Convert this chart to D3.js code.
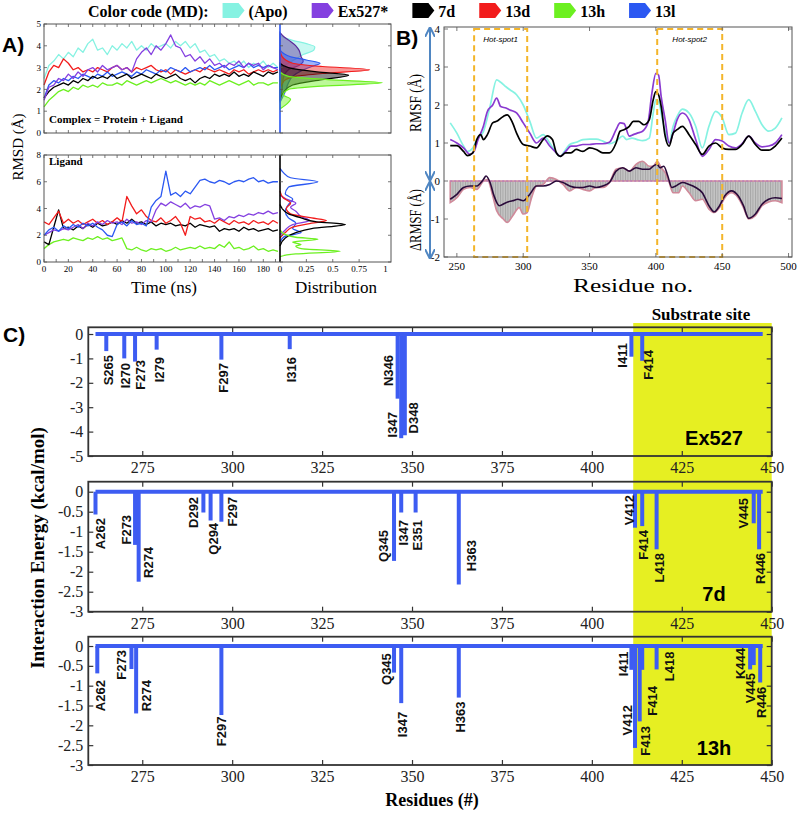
<!DOCTYPE html>
<html>
<head>
<meta charset="utf-8">
<script src="https://cdn.jsdelivr.net/npm/d3@7"></script>
<style>
  body { margin: 0; background: #fff; }
  svg { display: block; }
  .serif { font-family: "Liberation Serif", "Times New Roman", serif; }
  .sans { font-family: "Liberation Sans", Arial, sans-serif; }
</style>
</head>
<body>
<div id="chart"></div>
<script>
// legend of the md runs
let legendNames = ['(Apo)', 'Ex527*', '7d', '13d', '13h', '13l'];

// panel A: sampled time (ns) and rmsd traces (angstrom)
let timeNs = [0,4,8,12,16,20,24,28,32,36,
    40,44,48,52,56,60,64,68,72,76,
    80,84,88,92,96,100,104,108,112,116,
    120,124,128,132,136,140,144,148,152,156,
    160,164,168,172,176,180,184,188,192];

let complexApo = [2.5,3.1,3.3,3.6,3.4,3.7,3.5,3.9,3.7,4.1,
    4.3,3.8,3.9,3.6,4.0,3.8,4.1,3.9,4.2,3.8,
    4.0,3.8,4.1,3.9,4.0,4.1,3.9,4.2,4.0,4.2,
    3.9,4.1,3.7,3.8,3.5,3.6,3.3,3.4,3.2,3.3,
    3.1,3.3,3.0,3.2,3.1,3.3,3.0,3.2,3.0];
let complexEx527 = [1.5,2.1,2.2,2.5,2.4,2.7,2.5,2.8,2.6,2.9,
    3.0,2.8,3.1,2.9,3.0,3.1,2.9,3.0,2.8,3.4,
    3.7,3.9,3.6,4.0,3.8,4.1,4.5,4.0,3.9,3.5,
    3.6,3.3,3.5,3.2,3.4,3.1,3.2,3.0,3.2,3.1,
    3.3,3.0,3.2,3.1,3.2,2.9,3.1,3.0,2.9];
let complex7d = [1.6,1.9,2.1,2.2,2.3,2.2,2.4,2.3,2.5,2.4,
    2.6,2.5,2.6,2.5,2.7,2.5,2.6,2.7,2.5,2.6,
    2.7,2.6,2.5,2.7,2.6,2.5,2.6,2.7,2.5,2.4,
    2.5,2.3,2.5,2.6,2.5,2.7,2.6,2.7,2.6,2.8,
    2.6,2.7,2.6,2.8,2.7,2.6,2.8,2.7,2.8];
let complex13d = [2.2,2.8,3.1,3.0,3.4,3.2,2.9,3.0,2.8,2.9,
    2.8,3.0,2.9,2.8,3.0,3.1,2.9,3.0,2.8,3.0,
    2.9,3.0,3.1,2.9,2.8,2.9,2.7,2.9,2.8,2.7,
    2.8,2.9,2.8,3.0,2.9,2.8,2.9,2.8,2.7,2.9,
    2.8,2.9,2.7,2.8,2.9,2.8,2.9,2.8,2.9];
let complex13h = [1.2,1.5,1.7,1.9,2.0,1.9,2.1,2.0,2.2,2.1,
    2.2,2.1,2.3,2.2,2.2,2.3,2.2,2.4,2.3,2.2,
    2.3,2.4,2.3,2.4,2.5,2.4,2.3,2.4,2.3,2.2,
    2.3,2.2,2.3,2.2,2.4,2.3,2.2,2.3,2.4,2.3,
    2.2,2.3,2.4,2.2,2.3,2.3,2.2,2.3,2.3];
let complex13l = [1.6,2.2,2.4,2.3,2.5,2.4,2.6,2.5,2.7,2.6,
    2.5,2.7,2.6,2.8,2.6,2.7,2.8,2.7,2.6,2.8,
    2.7,2.9,2.8,2.7,2.9,2.8,3.0,2.9,2.8,3.0,
    2.8,2.9,3.0,2.9,3.1,2.9,3.0,3.1,2.9,3.0,
    3.1,3.0,3.2,3.0,3.1,3.0,3.1,3.0,3.0];

let ligandEx527 = [2.0,2.2,2.4,2.3,2.5,2.4,2.6,2.8,2.5,2.9,
    2.7,3.0,2.8,3.1,2.9,3.0,2.8,3.2,2.9,3.0,
    2.8,3.1,3.0,3.9,4.4,4.2,4.5,4.3,4.1,4.4,
    4.0,4.2,4.1,4.3,4.2,3.2,3.3,3.1,3.4,3.3,
    3.5,3.4,3.6,3.5,3.7,3.6,3.8,3.6,3.7];
let ligand7d = [1.5,1.3,2.6,3.9,2.5,2.6,2.4,2.7,2.5,2.8,
    2.6,2.9,2.7,2.8,3.0,2.8,3.1,2.9,3.2,2.9,
    3.0,2.8,3.0,2.7,2.9,2.8,2.9,2.7,2.8,2.7,
    2.9,2.6,2.8,2.7,2.6,2.7,2.3,2.5,2.4,2.5,
    2.3,2.6,2.4,2.5,2.3,2.4,2.5,2.3,2.4];
let ligand13d = [3.0,2.8,3.3,3.8,2.9,3.2,2.9,3.1,2.8,3.0,
    3.2,2.9,3.1,2.8,3.0,3.3,3.0,4.9,4.2,3.6,
    3.9,3.4,3.1,3.0,3.3,2.9,3.1,3.4,2.9,2.0,
    3.4,3.2,3.3,3.0,3.1,2.9,3.2,3.0,2.8,3.1,
    2.9,3.0,2.8,3.1,2.9,3.0,2.8,3.1,2.9];
let ligand13h = [1.0,1.3,1.5,1.6,1.7,1.6,1.8,1.7,1.6,1.8,
    1.7,1.9,1.7,1.8,1.6,1.7,1.8,1.0,0.9,1.1,
    0.9,0.8,1.0,0.9,1.0,0.8,0.9,1.1,0.9,1.0,
    1.1,1.0,1.2,1.0,1.1,1.0,1.3,1.1,1.5,1.0,
    1.1,0.9,1.0,1.2,0.9,1.0,0.8,0.9,0.8];
let ligand13l = [2.0,2.4,2.6,2.3,2.7,2.5,2.8,2.6,2.9,2.7,
    2.9,2.6,2.4,2.0,1.9,2.8,3.0,2.7,3.1,2.8,
    2.9,2.7,4.1,4.6,4.9,6.8,5.0,5.2,4.9,5.3,
    5.1,5.6,6.1,6.2,6.0,5.9,6.1,6.0,5.8,6.0,
    6.1,6.0,6.2,6.3,6.0,6.1,5.9,6.0,6.0];

// distributions: [rmsd, density]
let distApo = [[2.6,0],[3.0,0.02],[3.2,0.08],[3.4,0.15],[3.6,0.22],[3.8,0.32],[3.95,0.33],[4.1,0.25],[4.25,0.12],[4.4,0.03],[4.5,0]];
let distEx527 = [[1.5,0],[2.0,0.02],[2.5,0.03],[2.9,0.08],[3.1,0.18],[3.3,0.22],[3.5,0.2],[3.8,0.18],[4.0,0.15],[4.2,0.1],[4.4,0.04],[4.6,0]];
let dist7d = [[1.5,0],[1.9,0.04],[2.2,0.12],[2.45,0.4],[2.65,0.65],[2.8,0.35],[3.0,0.08],[3.2,0]];
let dist13d = [[2.0,0],[2.4,0.04],[2.6,0.15],[2.75,0.45],[2.9,0.85],[3.05,0.4],[3.2,0.12],[3.5,0.02],[3.8,0]];
let dist13h = [[1.1,0],[1.4,0.08],[1.55,0.1],[1.75,0.03],[2.0,0.08],[2.15,0.4],[2.3,0.97],[2.45,0.45],[2.6,0.08],[2.8,0]];
let dist13l = [[1.4,0],[1.9,0.05],[2.3,0.08],[2.6,0.12],[2.85,0.2],[3.05,0.3],[3.2,0.38],[3.35,0.25],[3.5,0.1],[3.8,0]];

let ligDistEx527 = [[2.0,0],[2.4,0.05],[2.8,0.12],[3.1,0.28],[3.4,0.2],[3.8,0.15],[4.1,0.1],[4.4,0.15],[4.7,0.06],[5.0,0]];
let ligDist7d = [[1.2,0],[1.8,0.05],[2.2,0.15],[2.5,0.3],[2.8,0.62],[3.0,0.35],[3.3,0.2],[3.6,0.08],[4.0,0.02],[4.3,0]];
let ligDist13d = [[1.8,0],[2.2,0.05],[2.6,0.12],[2.9,0.3],[3.1,0.44],[3.3,0.3],[3.6,0.1],[4.0,0.06],[4.4,0.1],[4.8,0.03],[5.3,0]];
let ligDist13h = [[0.4,0],[0.6,0.15],[0.8,0.57],[1.0,0.2],[1.2,0.15],[1.3,0.2],[1.5,0.12],[1.7,0.36],[1.85,0.15],[2.1,0.04],[2.4,0]];
let ligDist13l = [[1.5,0],[1.9,0.04],[2.2,0.2],[2.5,0.12],[2.9,0.15],[3.3,0.08],[3.8,0.05],[4.3,0.08],[4.7,0.12],[5.1,0.05],[5.6,0.08],[6.0,0.36],[6.3,0.1],[6.7,0.03],[7.0,0]];

// panel B: rmsf per residue [residue, angstrom]
let rmsfApo = [[245,1.53],[250,1.26],[255,0.92],[258,0.78],[262,0.87],[265,1.09],[270,1.3],[275,1.96],[280,2.66],[283,2.6],[287,2.48],[290,2.4],[295,2.27],[300,2.0],[305,1.57],[310,1.13],[315,1.22],[320,1.0],[325,0.74],[328,0.65],[332,0.83],[335,0.96],[340,1.02],[345,1.09],[350,1.1],[355,1.1],[360,1.05],[365,0.98],[370,1.05],[375,1.18],[378,1.09],[382,1.13],[386,1.09],[390,1.06],[395,1.13],[398,1.79],[400,2.14],[402,2.09],[405,1.61],[408,1.18],[410,1.0],[413,1.44],[416,1.7],[420,1.89],[425,1.79],[430,1.44],[435,0.87],[440,1.44],[445,1.83],[450,1.66],[455,1.22],[460,1.26],[465,1.79],[470,2.14],[475,1.83],[480,1.48],[485,1.31],[490,1.39],[495,1.66]];
let rmsfEx527 = [[245,1.09],[250,1.0],[255,0.87],[260,0.7],[263,0.78],[266,1.09],[270,1.44],[273,1.83],[277,2.0],[280,2.18],[283,1.96],[287,1.92],[290,1.87],[295,1.79],[300,1.53],[305,1.26],[310,1.0],[315,1.13],[320,0.92],[325,0.74],[328,0.65],[332,0.78],[336,0.92],[340,0.92],[345,0.96],[350,0.96],[355,0.98],[360,0.98],[365,1.02],[370,1.35],[373,1.53],[376,1.51],[380,1.18],[383,1.22],[386,1.26],[390,1.31],[394,1.53],[397,2.31],[400,2.83],[402,2.79],[404,2.22],[407,1.61],[410,1.0],[413,1.26],[416,1.61],[420,1.79],[425,1.61],[430,1.09],[435,0.65],[440,0.83],[445,1.09],[450,1.05],[455,0.92],[460,0.87],[465,0.98],[470,1.18],[475,1.0],[480,0.9],[485,0.92],[490,1.0],[495,1.22]];
let rmsf7d = [[245,0.93],[250,0.93],[255,0.78],[258,0.67],[262,0.74],[265,1.09],[268,1.22],[270,1.09],[273,1.22],[277,1.53],[280,1.57],[285,1.7],[288,1.74],[292,1.53],[295,1.26],[300,0.96],[305,0.92],[310,0.87],[315,1.09],[318,1.19],[322,1.09],[325,0.74],[328,0.65],[332,0.74],[336,0.74],[340,0.83],[345,0.78],[350,0.87],[355,0.83],[360,0.74],[365,0.74],[370,1.0],[373,1.31],[376,1.35],[380,1.44],[383,1.57],[387,1.57],[391,1.48],[395,1.61],[398,2.14],[400,2.35],[402,2.27],[404,1.96],[407,1.18],[410,0.92],[413,1.26],[416,1.35],[420,1.44],[425,1.22],[430,0.96],[435,0.7],[440,0.92],[445,1.0],[450,0.87],[455,0.83],[460,0.83],[465,0.96],[470,1.18],[475,0.96],[480,0.81],[485,0.81],[490,0.92],[495,1.13]];
let dRmsfEx527 = [[245,-0.57],[250,-0.44],[255,-0.22],[260,-0.17],[265,-0.22],[270,0.0],[273,0.04],[277,-0.39],[280,-0.78],[285,-1.0],[288,-1.09],[292,-0.92],[297,-0.7],[300,-0.87],[303,-0.83],[306,-0.48],[310,-0.13],[315,-0.09],[320,0.09],[325,0.04],[330,-0.09],[335,-0.26],[340,-0.17],[345,-0.22],[350,-0.26],[355,-0.17],[360,-0.17],[365,-0.04],[370,0.31],[375,0.35],[380,0.26],[385,0.44],[390,0.52],[395,0.39],[398,0.39],[401,0.52],[404,0.35],[407,0.22],[410,-0.04],[413,-0.31],[417,-0.31],[420,-0.13],[425,-0.31],[430,-0.52],[435,-0.48],[440,-0.74],[444,-0.83],[448,-0.7],[452,-0.44],[457,-0.31],[462,-0.44],[466,-0.7],[470,-1.0],[475,-0.91],[480,-0.65],[485,-0.55],[490,-0.52],[495,-0.57]];
let dRmsf7d = [[245,-0.48],[250,-0.35],[255,-0.17],[260,-0.13],[265,-0.13],[270,0.04],[272,0.13],[275,-0.04],[278,-0.39],[282,-0.65],[287,-0.57],[292,-0.52],[296,-0.48],[300,-0.52],[305,-0.35],[310,-0.13],[315,-0.13],[320,-0.09],[325,0.0],[330,-0.04],[335,-0.13],[340,-0.17],[345,-0.17],[350,-0.13],[355,-0.17],[360,-0.13],[365,-0.04],[370,0.26],[375,0.35],[380,0.26],[385,0.35],[390,0.31],[395,0.31],[398,0.39],[401,0.44],[403,0.35],[406,0.39],[409,0.13],[412,-0.17],[415,-0.13],[420,-0.04],[425,-0.09],[430,-0.17],[435,-0.31],[440,-0.65],[444,-0.81],[448,-0.65],[452,-0.39],[457,-0.26],[462,-0.39],[466,-0.65],[470,-0.98],[475,-0.87],[480,-0.61],[485,-0.48],[490,-0.44],[495,-0.46]];
let hotSpots = [['Hot-spot1', 263, 303], ['Hot-spot2', 401, 450]];

// panel C: interaction energy per residue [label, residue, kcal/mol]
let ex527Bars = [['S265',265,-0.7],['I270',270,-1.0],['F273',273,-1.13],['I279',279,-0.64],['F297',297,-1.05],['I316',316,-0.62],
    ['N346',346,-2.65],['I347',347,-4.27],['D348',348,-4.15],['I411',411,-0.93],['F414',414,-1.1]];
let d7Bars = [['A262',262,-0.57],['F273',273,-1.33],['R274',274,-2.25],['D292',292,-0.52],['Q294',294,-0.72],['F297',297,-0.75],
    ['Q345',345,-1.73],['I347',347,-0.52],['E351',351,-0.52],['H363',363,-2.32],['V412',412,-0.9],['F414',414,-0.86],
    ['L418',418,-1.44],['V445',445,-0.79],['R446',446.5,-1.44]];
let h13Bars = [['A262',262.5,-0.69],['F273',272,-0.58],['R274',273.3,-1.7],['F297',297,-1.74],['Q345',345,-0.67],['I347',347,-1.44],
    ['H363',363,-1.3],['I411',411,-0.6],['F414',414,-0.6],['V412',412,-2.57],['F413',413.3,-1.9],['L418',418,-0.59],
    ['K444',444,-0.59],['V445',445,-0.48],['R446',446.8,-0.92]];
let energyTicksEx527 = [0, -1, -2, -3, -4, -5];
let energyTicks = [0, -0.5, -1, -1.5, -2, -2.5, -3];
let residueTicks = [275, 300, 325, 350, 375, 400, 425, 450];



let colors = ['#86f2e2', '#8440e0', '#000000', '#f21c1c', '#6cf020', '#2b58f2'];

let svg = d3.select('#chart')
    .append('svg')
        .attr('width', 798)
        .attr('height', 815);

// legend at the top
let legend = svg.append('g')
        .attr('class', 'serif')
        .style('font-weight', 'bold')
        .style('font-size', '16px');
let lx = 88;
let lt = legend.append('text').attr('x', lx).attr('y', 17).text('Color code (MD):');
lx += lt.node().getComputedTextLength() + 14;
legendNames.forEach((name, i) => {
    legend.append('path')
        .attr('d', arrowPath(lx, 3, 22, 15))
        .attr('fill', colors[i]);
    let t = legend.append('text').attr('x', lx + 26).attr('y', 17).text(name);
    lx += 26 + t.node().getComputedTextLength() + 24;
});

// panel labels
svg.append('g').attr('class', 'sans').style('font-weight', 'bold').style('font-size', '21px')
    .selectAll('text')
    .data([['A)', 2, 52], ['B)', 396, 45], ['C)', 3, 342]])
    .enter()
    .append('text')
        .attr('x', (d) => d[1])
        .attr('y', (d) => d[2])
        .text((d) => d[0]);



// ---------------- panel A ----------------
let aX = d3.scaleLinear().domain([0, 193.7]).range([44, 280]);
let aD = d3.scaleLinear().domain([0, 1]).range([280, 385.5]);
let aTop = d3.scaleLinear().domain([0, 5]).range([133, 24]);
let aBot = d3.scaleLinear().domain([0, 8]).range([262, 155]);

let panelA = svg.append('g').attr('class', 'serif');

function drawRmsdBox(yScale, yTicks, series, dists, filled, withLabels) {
    let y0 = yScale.range()[0], y1 = yScale.range()[1];
    let g = panelA.append('g');

    // traces
    let line = d3.line().x((d, i) => aX(timeNs[i])).y((d) => yScale(d));
    series.forEach((s) => {
        g.append('path')
            .attr('d', line(s[0]))
            .attr('fill', 'none')
            .attr('stroke', s[1])
            .attr('stroke-width', 1.3)
            .attr('stroke-linejoin', 'round');
    });

    // distributions drawn sideways
    let area = d3.area().curve(d3.curveMonotoneY)
        .y((d) => yScale(d[0]))
        .x0(aD(0))
        .x1((d) => aD(d[1]));
    let dline = d3.line().curve(d3.curveMonotoneY)
        .y((d) => yScale(d[0]))
        .x((d) => aD(d[1]));
    dists.forEach((s) => {
        if (filled) {
            g.append('path').attr('d', area(s[0]))
                .attr('fill', s[1]).attr('fill-opacity', 0.45)
                .attr('stroke', s[1]).attr('stroke-width', 1.2);
        } else {
            g.append('path').attr('d', dline(s[0]))
                .attr('fill', 'none')
                .attr('stroke', s[1]).attr('stroke-width', 1.3);
        }
    });

    g.append('line')
        .attr('x1', 280).attr('x2', 280)
        .attr('y1', y1).attr('y2', y0)
        .attr('stroke', filled ? '#2b58f2' : '#000')
        .attr('stroke-width', 1.6);

    // box and inner ticks
    g.append('rect')
        .attr('x', 44).attr('y', y1)
        .attr('width', 347).attr('height', y0 - y1)
        .attr('fill', 'none').attr('stroke', '#555').attr('stroke-width', 1);

    let tickX = d3.range(0, 191, 10);
    let tickD = [0.25, 0.5, 0.75];
    let tk = g.append('g').attr('stroke', '#555').attr('stroke-width', 0.8);
    tickX.map(aX).concat(tickD.map(aD)).forEach((x) => {
        tk.append('line').attr('x1', x).attr('x2', x).attr('y1', y0).attr('y2', y0 - 3);
        tk.append('line').attr('x1', x).attr('x2', x).attr('y1', y1).attr('y2', y1 + 3);
    });
    yTicks.forEach((v) => {
        let y = yScale(v);
        tk.append('line').attr('x1', 44).attr('x2', 47).attr('y1', y).attr('y2', y);
        tk.append('line').attr('x1', 391).attr('x2', 388).attr('y1', y).attr('y2', y);
        tk.append('line').attr('x1', 280).attr('x2', 283).attr('y1', y).attr('y2', y);
    });

    g.selectAll('.ylab')
        .data(yTicks)
        .enter()
        .append('text')
            .attr('x', 41)
            .attr('y', (d) => yScale(d))
            .attr('dy', '0.35em')
            .attr('text-anchor', 'end')
            .style('font-size', '9px')
            .text((d) => d);

    if (withLabels) {
        g.selectAll('.xlab')
            .data(d3.range(0, 181, 20))
            .enter()
            .append('text')
                .attr('x', (d) => aX(d))
                .attr('y', y0 + 10)
                .attr('text-anchor', 'middle')
                .style('font-size', '9px')
                .text((d) => d);
        g.selectAll('.dlab')
            .data([0, 0.25, 0.5, 0.75, 1])
            .enter()
            .append('text')
                .attr('x', (d) => aD(d))
                .attr('y', y0 + 10)
                .attr('text-anchor', 'middle')
                .style('font-size', '9px')
                .text((d) => d);
    }
    return g;
}

drawRmsdBox(aTop, [0, 1, 2, 3, 4, 5],
    [[complexApo, colors[0]], [complex13d, colors[3]], [complex13l, colors[5]], [complex7d, colors[2]],
     [complex13h, colors[4]], [complexEx527, colors[1]]],
    [[distApo, colors[0]], [distEx527, '#5a2a9a'], [dist13l, colors[5]], [dist13d, colors[3]],
     [dist7d, colors[2]], [dist13h, colors[4]]],
    true, false);

drawRmsdBox(aBot, [0, 2, 4, 6, 8],
    [[ligand13h, colors[4]], [ligand7d, colors[2]], [ligand13d, colors[3]], [ligandEx527, colors[1]],
     [ligand13l, colors[5]]],
    [[ligDist13l, colors[5]], [ligDistEx527, colors[1]], [ligDist13d, colors[3]], [ligDist7d, colors[2]],
     [ligDist13h, colors[4]]],
    false, true);

panelA.append('text').attr('x', 49).attr('y', 123)
    .style('font-size', '11px').style('font-weight', 'bold')
    .text('Complex = Protein + Ligand');
panelA.append('text').attr('x', 49).attr('y', 165)
    .style('font-size', '11px').style('font-weight', 'bold')
    .text('Ligand');
panelA.append('text').attr('transform', translate(23, 147) + ' rotate(-90)')
    .attr('text-anchor', 'middle').style('font-size', '15px')
    .text('RMSD (Å)');
panelA.append('text').attr('x', 164).attr('y', 293)
    .attr('text-anchor', 'middle').style('font-size', '17px')
    .text('Time (ns)');
panelA.append('text').attr('x', 336).attr('y', 293)
    .attr('text-anchor', 'middle').style('font-size', '17px')
    .text('Distribution');



// ---------------- panel B ----------------
let bX = d3.scaleLinear().domain([240.3, 502.6]).range([444, 792]);
let bY = d3.scaleLinear().domain([-2, 4]).range([257, 29]);
let panelB = svg.append('g').attr('class', 'serif');

let defs = svg.append('defs');
let hatch = defs.append('pattern')
        .attr('id', 'hatch')
        .attr('patternUnits', 'userSpaceOnUse')
        .attr('width', 2.5).attr('height', 10);
hatch.append('rect').attr('width', 2.5).attr('height', 10).attr('fill', '#c4c4c4');
hatch.append('line').attr('x1', 0.5).attr('x2', 0.5).attr('y1', 0).attr('y2', 10)
    .attr('stroke', '#9d9d9d').attr('stroke-width', 0.8);

let bLine = d3.line().curve(d3.curveMonotoneX).x((d) => bX(d[0])).y((d) => bY(d[1]));
let bArea = d3.area().curve(d3.curveMonotoneX).x((d) => bX(d[0])).y0(bY(0)).y1((d) => bY(d[1]));

panelB.append('path').attr('d', bArea(dRmsfEx527))
    .attr('fill', 'url(#hatch)').attr('stroke', '#d08a9a').attr('stroke-width', 1.6);
panelB.append('line')
    .attr('x1', bX(245)).attr('x2', bX(495)).attr('y1', bY(0)).attr('y2', bY(0))
    .attr('stroke', '#b070c0').attr('stroke-width', 1).attr('stroke-dasharray', '2,2');
panelB.append('path').attr('d', bLine(dRmsf7d))
    .attr('fill', 'none').attr('stroke', '#2a0a3a').attr('stroke-width', 1.6);

[[rmsfApo, colors[0]], [rmsfEx527, '#8a3ad0'], [rmsf7d, '#000']].forEach((s) => {
    panelB.append('path').attr('d', bLine(s[0]))
        .attr('fill', 'none').attr('stroke', s[1]).attr('stroke-width', 1.7);
});

// hot-spot boxes
hotSpots.forEach((h) => {
    panelB.append('rect')
        .attr('x', bX(h[1])).attr('y', bY(4))
        .attr('width', bX(h[2]) - bX(h[1])).attr('height', bY(-2) - bY(4))
        .attr('fill', 'none').attr('stroke', '#f3b52a')
        .attr('stroke-width', 2).attr('stroke-dasharray', '6,4');
    panelB.append('text')
        .attr('x', (bX(h[1]) + bX(h[2])) / 2).attr('y', 42)
        .attr('text-anchor', 'middle')
        .attr('class', 'sans')
        .style('font-size', '8px').style('font-style', 'italic')
        .text(h[0]);
});

panelB.append('rect')
    .attr('x', 444).attr('y', 27).attr('width', 348).attr('height', 230)
    .attr('fill', 'none').attr('stroke', '#555').attr('stroke-width', 1);

let bxTicks = [250, 300, 350, 400, 450, 500];
let byTicks = [-2, -1, 0, 1, 2, 3, 4];
let bt = panelB.append('g').attr('stroke', '#555').attr('stroke-width', 0.8);
bxTicks.forEach((v) => {
    bt.append('line').attr('x1', bX(v)).attr('x2', bX(v)).attr('y1', 257).attr('y2', 253);
    bt.append('line').attr('x1', bX(v)).attr('x2', bX(v)).attr('y1', 27).attr('y2', 31);
});
byTicks.forEach((v) => {
    bt.append('line').attr('x1', 444).attr('x2', 448).attr('y1', bY(v)).attr('y2', bY(v));
    bt.append('line').attr('x1', 792).attr('x2', 788).attr('y1', bY(v)).attr('y2', bY(v));
});
panelB.selectAll('.bxl').data(bxTicks).enter().append('text')
    .attr('x', (d) => bX(d)).attr('y', 270).attr('text-anchor', 'middle')
    .style('font-size', '11px').text((d) => d);
panelB.selectAll('.byl').data(byTicks).enter().append('text')
    .attr('x', 440).attr('y', (d) => bY(d)).attr('dy', '0.35em').attr('text-anchor', 'end')
    .style('font-size', '11px').text((d) => d);

// double arrows on the left
let arrowBlue = '#4f86c2';
defs.append('marker')
        .attr('id', 'ah').attr('viewBox', '0 0 10 10')
        .attr('refX', 8).attr('refY', 5)
        .attr('markerWidth', 5).attr('markerHeight', 5)
        .attr('orient', 'auto-start-reverse')
    .append('path').attr('d', 'M0,0 L10,5 L0,10').attr('fill', 'none')
        .attr('stroke', arrowBlue).attr('stroke-width', 2);
[[bY(4), bY(0) - 2], [bY(0) + 2, bY(-2)]].forEach((a) => {
    panelB.append('line')
        .attr('x1', 430).attr('x2', 430).attr('y1', a[0]).attr('y2', a[1])
        .attr('stroke', arrowBlue).attr('stroke-width', 2)
        .attr('marker-start', 'url(#ah)').attr('marker-end', 'url(#ah)');
});

panelB.append('text').attr('transform', translate(421, 103) + ' rotate(-90)')
    .attr('text-anchor', 'middle').style('font-size', '17px')
    .attr('textLength', 58).attr('lengthAdjust', 'spacingAndGlyphs')
    .text('RMSF (Å)');
panelB.append('text').attr('transform', translate(421, 220) + ' rotate(-90)')
    .attr('text-anchor', 'middle').style('font-size', '17px')
    .attr('textLength', 62).attr('lengthAdjust', 'spacingAndGlyphs')
    .text('ΔRMSF (Å)');
panelB.append('text').attr('x', 633).attr('y', 292)
    .attr('text-anchor', 'middle').style('font-size', '19px')
    .attr('textLength', 120).attr('lengthAdjust', 'spacingAndGlyphs')
    .text('Residue no.');



// ---------------- panel C ----------------
let cX = d3.scaleLinear().domain([260, 450]).range([88.3, 771.7]);
let barBlue = '#3d5cf2';

// where each residue label sits, in (residue, kcal/mol) units
let labelSpot = {
    'Ex527': {S265: [265.5, -0.86], I270: [270.2, -1.19], F273: [274.4, -1.07], I279: [279.7, -0.94],
        F297: [297.4, -1.19], I316: [316.5, -0.94], N346: [343.5, -0.86], I347: [344.4, -3.2],
        D348: [350.3, -2.8], I411: [408.4, -0.37], F414: [415.7, -0.66]},
    '7d': {A262: [263.3, -0.66], F273: [270.5, -0.58], R274: [276.7, -1.38], D292: [289.2, -0.13],
        Q294: [294.75, -0.78], F297: [299.9, -0.13], Q345: [342.0, -0.96], I347: [347.6, -0.71],
        E351: [351.5, -0.71], H363: [366.6, -1.21], V412: [410.4, -0.08], F414: [414.3, -0.96],
        L418: [418.7, -1.53], V445: [442.1, -0.16], R446: [446.7, -1.53]},
    '13h': {A262: [263.3, -0.86], F273: [269.3, -0.1], R274: [276.2, -0.86], F297: [297.1, -1.78],
        Q345: [342.8, -0.18], I347: [347.4, -1.66], H363: [363.3, -1.4], I411: [408.7, -0.14],
        V412: [409.8, -1.49], F413: [414.8, -2.02], F414: [416.8, -1.01], L418: [421.5, -0.14],
        K444: [441.2, -0.05], V445: [444.0, -0.68], R446: [447.2, -1.03]}
};

let cPanels = [
    {name: 'Ex527', bars: ex527Bars, yDomain: [-5, 0.275], yRange: [456, 327.3], ticks: energyTicksEx527, nameY: 445},
    {name: '7d', bars: d7Bars, yDomain: [-3, 0.25], yRange: [611.7, 481.7], ticks: energyTicks, nameY: 601},
    {name: '13h', bars: h13Bars, yDomain: [-3, 0.235], yRange: [765, 636.7], ticks: energyTicks, nameY: 755}
];

let panelC = svg.append('g');

// substrate site band behind the three plots
panelC.append('rect')
    .attr('x', cX(411.5)).attr('y', 323)
    .attr('width', cX(450) - cX(411.5)).attr('height', 765 - 323)
    .attr('fill', '#e6ef22');
panelC.append('text')
    .attr('class', 'serif')
    .attr('x', 701).attr('y', 320)
    .attr('text-anchor', 'middle')
    .style('font-size', '17px').style('font-weight', 'bold')
    .text('Substrate site');

cPanels.forEach((p) => {
    let y = d3.scaleLinear().domain(p.yDomain).range(p.yRange);
    let g = panelC.append('g');
    let top = p.yRange[1], bottom = p.yRange[0];

    // axes with inward ticks
    g.append('g').attr('class', 'axis serif')
        .attr('transform', translate(0, bottom))
        .call(d3.axisBottom(cX).tickValues(residueTicks).tickSize(-5).tickPadding(6));
    g.append('g').attr('class', 'axis')
        .attr('transform', translate(0, top))
        .call(d3.axisTop(cX).tickValues(residueTicks).tickSize(-5).tickFormat(''));
    g.append('g').attr('class', 'axis serif')
        .attr('transform', translate(cX(260), 0))
        .call(d3.axisLeft(y).tickValues(p.ticks).tickSize(-5).tickPadding(5).tickFormat((d) => String(d)));
    g.append('g').attr('class', 'axis')
        .attr('transform', translate(cX(450), 0))
        .call(d3.axisRight(y).tickValues(p.ticks).tickSize(-5).tickFormat(''));
    g.selectAll('.axis .domain').remove();
    g.selectAll('.axis line').attr('stroke', '#333').attr('stroke-width', 1.2);
    g.selectAll('.axis text').style('font-size', '16px').attr('fill', '#222');

    g.append('rect')
        .attr('x', cX(260)).attr('y', top)
        .attr('width', cX(450) - cX(260)).attr('height', bottom - top)
        .attr('fill', 'none').attr('stroke', '#333').attr('stroke-width', 1.8);

    // zero line then bars
    g.append('line')
        .attr('x1', cX(262)).attr('x2', cX(447.5))
        .attr('y1', y(0)).attr('y2', y(0))
        .attr('stroke', barBlue).attr('stroke-width', 4);
    g.selectAll('.bar')
        .data(p.bars)
        .enter()
        .append('rect')
            .attr('class', 'bar')
            .attr('x', (d) => cX(d[1]) - 2)
            .attr('y', y(0))
            .attr('width', 4)
            .attr('height', (d) => y(d[2]) - y(0))
            .attr('fill', barBlue);

    // residue labels
    g.selectAll('.rlab')
        .data(p.bars)
        .enter()
        .append('text')
            .attr('class', 'sans')
            .attr('transform', (d) => {
                let s = labelSpot[p.name][d[0]];
                return translate(cX(s[0]), y(s[1])) + ' rotate(-90)';
            })
            .attr('dy', '0.36em')
            .attr('text-anchor', 'end')
            .style('font-size', '13px')
            .style('font-weight', 'bold')
            .attr('fill', '#111')
            .text((d) => d[0]);

    g.append('text')
        .attr('class', 'sans')
        .attr('x', 714).attr('y', p.nameY)
        .attr('text-anchor', 'middle')
        .style('font-size', '20px').style('font-weight', 'bold')
        .text(p.name);
});

panelC.append('text')
    .attr('class', 'serif')
    .attr('transform', translate(44, 548) + ' rotate(-90)')
    .attr('text-anchor', 'middle')
    .style('font-size', '19px').style('font-weight', 'bold')
    .text('Interaction Energy (kcal/mol)');
panelC.append('text')
    .attr('class', 'serif')
    .attr('x', 432).attr('y', 806)
    .attr('text-anchor', 'middle')
    .style('font-size', '18px').style('font-weight', 'bold')
    .text('Residues (#)');



// pentagon swatch used in the legend
function arrowPath(x, y, w, h) {
    return 'M' + x + ',' + y + 'L' + (x + w - 6) + ',' + y + 'L' + (x + w) + ',' + (y + h / 2) +
        'L' + (x + w - 6) + ',' + (y + h) + 'L' + x + ',' + (y + h) + 'Z';
}

// helper method to make translating easier
function translate(x, y) {
    return 'translate(' + x + ',' + y + ')';
}
</script>
</body>
</html>
